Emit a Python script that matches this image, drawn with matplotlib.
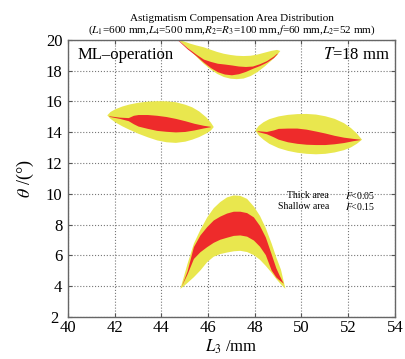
import numpy as np
import matplotlib.pyplot as plt
from matplotlib.transforms import ScaledTranslation

plt.rcParams['font.family'] = ['Liberation Serif', 'DejaVu Serif']
plt.rcParams['mathtext.fontset'] = 'stix'

# ------------------ 数据（从图中读取的区域边界） ------------------
# 上方月牙区域：浅区（黄）与深区（红）的上下边界
top_x = [44.62, 44.9, 45.22, 45.5, 45.79, 46.07, 46.36, 46.65, 46.94, 47.2,
         47.5, 47.8, 48.1, 48.4, 48.7, 48.93, 49.07]
top_hi = [20.17, 19.95, 19.78, 19.66, 19.55, 19.4, 19.25, 19.13, 19.05, 19.0,
          18.98, 19.0, 19.08, 19.2, 19.32, 19.38, 19.31]
top_lo = [20.17, 19.75, 19.35, 18.9, 18.48, 18.13, 17.83, 17.62, 17.51, 17.48,
          17.52, 17.68, 17.95, 18.3, 18.7, 19.03, 19.31]
top_rx = [44.7, 45.1, 45.5, 45.8, 46.1, 46.4, 46.7, 47.0, 47.3, 47.6, 47.9,
          48.2, 48.5, 48.8, 48.95]
top_rhi = [20.02, 19.5, 19.05, 18.75, 18.6, 18.48, 18.43, 18.37, 18.3, 18.27,
           18.3, 18.45, 18.65, 18.95, 19.15]
top_rlo = [19.98, 19.42, 18.95, 18.55, 18.2, 17.93, 17.78, 17.73, 17.8, 17.95,
           18.15, 18.33, 18.55, 18.85, 19.1]

# 左侧透镜区域
left_x = [41.66, 41.8, 42.0, 42.3, 42.6, 43.0, 43.4, 43.8, 44.2, 44.6, 45.0,
          45.3, 45.6, 45.9, 46.1, 46.22]
left_hi = [15.13, 15.35, 15.52, 15.7, 15.83, 15.95, 16.02, 16.05, 16.04, 15.98,
           15.82, 15.65, 15.38, 15.0, 14.65, 14.37]
left_lo = [15.13, 14.9, 14.68, 14.42, 14.2, 13.93, 13.7, 13.5, 13.38, 13.34,
           13.42, 13.55, 13.72, 13.95, 14.15, 14.37]
left_rx = [41.75, 42.2, 42.58, 42.8, 43.0, 43.4, 43.8, 44.2, 44.6, 45.0, 45.4,
           45.8, 46.1]
left_rhi = [15.07, 14.98, 14.95, 15.1, 15.15, 15.15, 15.1, 15.02, 14.9, 14.75,
            14.58, 14.45, 14.38]
left_rlo = [15.03, 14.9, 14.75, 14.55, 14.4, 14.25, 14.12, 14.06, 14.02, 14.05,
            14.15, 14.28, 14.36]

# 右侧透镜区域
right_x = [48.0, 48.15, 48.35, 48.6, 49.0, 49.4, 49.8, 50.2, 50.6, 51.0, 51.4,
           51.8, 52.1, 52.35, 52.57]
right_hi = [14.15, 14.45, 14.68, 14.88, 15.06, 15.16, 15.21, 15.22, 15.18, 15.07,
            14.9, 14.62, 14.3, 13.95, 13.55]
right_lo = [14.15, 13.82, 13.55, 13.28, 13.0, 12.82, 12.7, 12.63, 12.6, 12.63,
            12.72, 12.87, 13.05, 13.28, 13.55]
right_rx = [48.1, 48.5, 48.8, 49.0, 49.4, 49.8, 50.2, 50.6, 51.0, 51.4, 51.8,
            52.2, 52.5]
right_rhi = [14.1, 14.05, 14.15, 14.25, 14.27, 14.27, 14.2, 14.08, 13.95, 13.8,
             13.68, 13.6, 13.55]
right_rlo = [14.05, 13.9, 13.7, 13.55, 13.38, 13.28, 13.22, 13.2, 13.2, 13.25,
             13.33, 13.45, 13.52]

# 下方拱形区域
bot_x = [44.79, 44.95, 45.1, 45.37, 45.65, 45.94, 46.22, 46.5, 46.79, 47.08,
         47.36, 47.65, 47.94, 48.2, 48.45, 48.7, 48.9, 49.1, 49.29]
bot_hi = [3.86, 4.7, 5.5, 6.8, 7.7, 8.5, 9.1, 9.5, 9.8, 9.93, 9.9, 9.7, 9.2,
          8.6, 7.8, 6.8, 5.9, 5.1, 3.86]
bot_lo = [3.86, 4.05, 4.25, 4.62, 5.06, 5.6, 5.95, 6.12, 6.22, 6.3, 6.33, 6.25,
          6.05, 5.75, 5.35, 4.9, 4.5, 4.15, 3.86]
bot_rx = [44.85, 45.1, 45.37, 45.65, 45.94, 46.22, 46.5, 46.79, 47.08, 47.36,
          47.65, 47.94, 48.2, 48.45, 48.7, 48.9, 49.05, 49.22]
bot_rhi = [4.0, 5.0, 6.57, 7.33, 7.87, 8.3, 8.55, 8.75, 8.87, 8.87, 8.78, 8.5,
           7.95, 7.2, 6.1, 5.2, 4.7, 4.19]
bot_rlo = [4.0, 4.8, 5.8, 6.24, 6.57, 6.85, 7.05, 7.18, 7.3, 7.33, 7.25, 7.0,
           6.6, 6.05, 5.05, 4.6, 4.4, 4.19]

x_ticks = [40, 42, 44, 46, 48, 50, 52, 54]
y_ticks = [2, 4, 6, 8, 10, 12, 14, 16, 18, 20]

YELLOW = '#e9e74e'
RED = '#ee2b2b'

# ------------------ 绘图 ------------------
fig = plt.figure(figsize=(4.05, 3.59), dpi=100)
ax = fig.add_axes([0.168, 0.117, 0.807, 0.772])

regions = [
    (top_x, top_lo, top_hi, top_rx, top_rlo, top_rhi),
    (left_x, left_lo, left_hi, left_rx, left_rlo, left_rhi),
    (right_x, right_lo, right_hi, right_rx, right_rlo, right_rhi),
    (bot_x, bot_lo, bot_hi, bot_rx, bot_rlo, bot_rhi),
]
for x, lo, hi, rx, rlo, rhi in regions:
    ax.fill_between(x, lo, hi, color=YELLOW, lw=0)
    ax.fill_between(rx, rlo, rhi, color=RED, lw=0)

ax.set_xlim(40, 54)
ax.set_ylim(2, 20)
ax.set_xticks(x_ticks)
ax.set_yticks(y_ticks)
ax.set_axisbelow(True)
ax.grid(True, ls=':', color='#777777', lw=0.8)
ax.tick_params(direction='in', top=True, right=True, length=3, width=0.8,
               color='#555555', labelsize=12)
ax.tick_params(axis='x', pad=2)
ax.tick_params(axis='y', pad=4)
for s in ax.spines.values():
    s.set_color('#666666')
    s.set_linewidth(1.0)

# 最下方的 "2" 稍微左移，避免和 "40" 重叠
lab2 = ax.get_yticklabels()[0]
lab2.set_transform(lab2.get_transform() +
                   ScaledTranslation(-3 / 72, 0, fig.dpi_scale_trans))

ax.set_xlabel(r'$L_3$ /mm', fontsize=12, labelpad=1)
ax.set_ylabel(r'$\theta$ /(°)', fontsize=13, labelpad=7)

ax.set_title('Astigmatism Compensation Area Distribution\n'
             r'($L_1$=600 mm,$L_4$=500 mm,$R_2$=$R_3$=100 mm,$f$=60 mm,$L_2$=52 mm)',
             fontsize=8, pad=5, linespacing=1.1)

ax.text(0.03, 0.946, 'ML–operation', transform=ax.transAxes, fontsize=12,
        ha='left', va='center')
ax.text(0.985, 0.946, r'$T$=18 mm', transform=ax.transAxes, fontsize=12,
        ha='right', va='center')

ax.text(0.798, 0.437, 'Thick area', transform=ax.transAxes, fontsize=7,
        ha='right', va='center')
ax.text(0.798, 0.40, 'Shallow area', transform=ax.transAxes, fontsize=7,
        ha='right', va='center')
ax.text(0.847, 0.437, r'$F$<0.05', transform=ax.transAxes, fontsize=7,
        ha='left', va='center')
ax.text(0.847, 0.40, r'$F$<0.15', transform=ax.transAxes, fontsize=7,
        ha='left', va='center')

fig.savefig('out.png', dpi=100)
